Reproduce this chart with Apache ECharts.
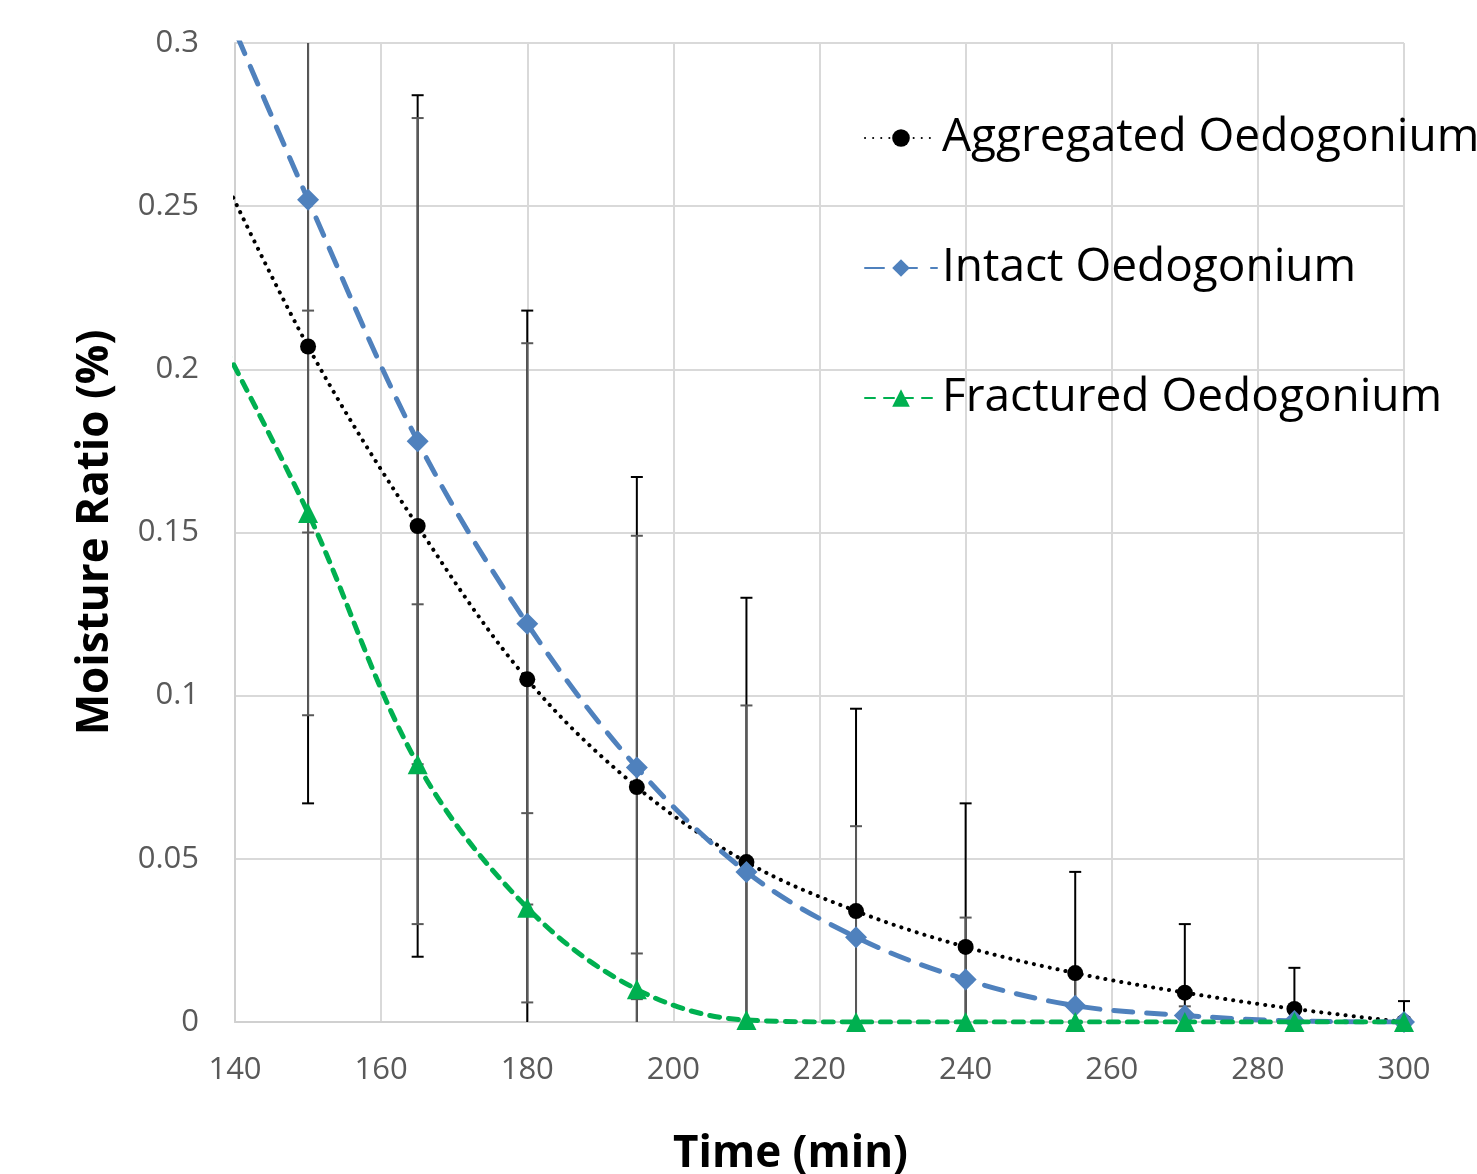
<!DOCTYPE html>
<html>
<head>
<meta charset="utf-8">
<title>Moisture Ratio</title>
<script src="https://cdn.jsdelivr.net/npm/echarts@6/dist/echarts.min.js"></script>
<style>
  html, body { margin: 0; padding: 0; background: #fff; }
  #main { width: 1477px; height: 1174px; }
</style>
</head>
<body>
<div id="main"></div>
<script>
// time (min) - first point lies left of the axis so the curves run into the edge
const times = [135, 150, 165, 180, 195, 210, 225, 240, 255, 270, 285, 300];

const aggregated = [0.275, 0.207, 0.152, 0.105, 0.072, 0.049, 0.034, 0.023, 0.015, 0.009, 0.004, 0];
const intact = [0.33, 0.252, 0.178, 0.122, 0.078, 0.046, 0.026, 0.013, 0.005, 0.002, 0.0003, 0];
const fractured = [0.222, 0.156, 0.079, 0.035, 0.010, 0.0006, 0, 0, 0, 0, 0, 0];

// error bars (+/-), null = none
const aggregatedErr = [null, 0.140, 0.132, 0.113, 0.095, 0.081, 0.062, 0.044, 0.031, 0.021, 0.0126, 0.0064];
const intactErr = [null, 0.102, 0.099, 0.086, 0.071, 0.051, 0.034, 0.019, 0.009, 0.0028, 0, 0];
const fracturedErr = [null, 0.062, 0.049, 0.029, 0.011, 0, 0, 0, 0, 0, 0, 0];

const names = ['Aggregated Oedogonium', 'Intact Oedogonium', 'Fractured Oedogonium'];

const font = 'Open Sans';

function pairs(values) {
  return times.map((t, i) => ({
    value: [t, values[i]],
    symbol: i === 0 ? 'none' : undefined
  }));
}

function errorSeries(name, values, errs, color) {
  let data = [];
  times.forEach((t, i) => {
    if (errs[i] !== null && errs[i] > 0) data.push([t, values[i], errs[i]]);
  });
  return {
    type: 'custom',
    name: name + ' err',
    data: data,
    z: 1,
    silent: true,
    encode: { x: 0, y: 1 },
    renderItem: function (params, api) {
      const cs = params.coordSys;
      const x = api.value(0), y = api.value(1), e = api.value(2);
      const top = api.coord([x, y + e]);
      const bottom = api.coord([x, y - e]);
      const px = top[0];
      const yMin = cs.y, yMax = cs.y + cs.height;
      const y1 = Math.max(top[1], yMin);
      const y2 = Math.min(bottom[1], yMax);
      const w = 6;
      const st = { stroke: color, lineWidth: 2 };
      let children = [{ type: 'line', shape: { x1: px, y1: y1, x2: px, y2: y2 }, style: st }];
      if (top[1] >= yMin) {
        children.push({ type: 'line', shape: { x1: px - w, y1: top[1], x2: px + w, y2: top[1] }, style: st });
      }
      if (bottom[1] <= yMax) {
        children.push({ type: 'line', shape: { x1: px - w, y1: bottom[1], x2: px + w, y2: bottom[1] }, style: st });
      }
      return { type: 'group', children: children };
    }
  };
}

let chart = echarts.init(document.getElementById('main'));

let option = {
  animation: false,
  backgroundColor: '#fff',
  grid: { left: 235, right: 73, top: 43, bottom: 152, outerBoundsMode: 'none' },
  legend: {
    data: names,
    orient: 'vertical',
    left: 859,
    top: 108,
    itemGap: 80,
    itemWidth: 72,
    itemHeight: 22,
    textStyle: { fontFamily: font, fontSize: 46, color: '#000', lineHeight: 50 }
  },
  xAxis: {
    type: 'value',
    min: 140,
    max: 300,
    interval: 20,
    name: 'Time (min)',
    nameLocation: 'middle',
    nameGap: 110,
    nameTextStyle: { fontFamily: font, fontSize: 44, fontWeight: 'bold', color: '#000', padding: [0, 58, 0, 0] },
    axisLine: { show: true, lineStyle: { color: '#d0d0d0', width: 2 } },
    axisTick: { show: false },
    axisLabel: { fontFamily: font, fontSize: 31, color: '#595959', margin: 33 },
    splitLine: { show: true, lineStyle: { color: '#d9d9d9', width: 2 } }
  },
  yAxis: {
    type: 'value',
    min: 0,
    max: 0.3,
    interval: 0.05,
    name: 'Moisture Ratio (%)',
    nameLocation: 'middle',
    nameGap: 118,
    nameTextStyle: { fontFamily: font, fontSize: 44, fontWeight: 'bold', color: '#000' },
    axisLine: { show: true, lineStyle: { color: '#d0d0d0', width: 2 } },
    axisTick: { show: false },
    axisLabel: { fontFamily: font, fontSize: 31, color: '#595959', margin: 36 },
    splitLine: { show: true, lineStyle: { color: '#d9d9d9', width: 2 } }
  },
  series: [
    errorSeries(names[0], aggregated, aggregatedErr, '#000000'),
    errorSeries(names[1], intact, intactErr, '#595959'),
    errorSeries(names[2], fractured, fracturedErr, '#595959'),
    {
      name: names[0],
      type: 'line',
      data: pairs(aggregated),
      smooth: 0.35,
      z: 3,
      symbol: 'circle',
      symbolSize: 16,
      itemStyle: { color: '#000' },
      lineStyle: { color: '#000', width: 4, type: [0.1, 8], cap: 'round' }
    },
    {
      name: names[1],
      type: 'line',
      data: pairs(intact),
      smooth: 0.35,
      z: 4,
      symbol: 'diamond',
      symbolSize: 22,
      itemStyle: { color: '#4f81bd' },
      lineStyle: { color: '#4f81bd', width: 5, type: [19, 14], cap: 'round' }
    },
    {
      name: names[2],
      type: 'line',
      data: pairs(fractured),
      smooth: 0.35,
      z: 5,
      symbol: 'triangle',
      symbolSize: 20,
      itemStyle: { color: '#00b050' },
      lineStyle: { color: '#00b050', width: 5, type: [10, 9], cap: 'round' }
    }
  ]
};

chart.setOption(option);
</script>
</body>
</html>
